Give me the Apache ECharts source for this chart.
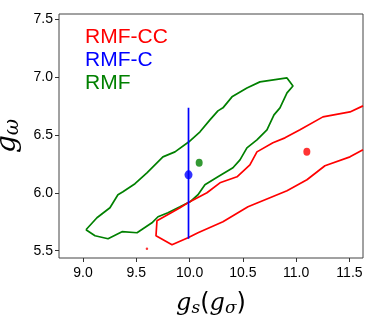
<!DOCTYPE html>
<html>
<head>
<meta charset="utf-8">
<script src="https://cdn.jsdelivr.net/npm/echarts@6/dist/echarts.min.js"></script>
<style>
  html, body { margin: 0; padding: 0; background: #fff; }
  #chart { width: 374px; height: 332px; }
</style>
</head>
<body>
<div id="chart"></div>
<script>
// contour of RMF (green, closed loop)
const rmfContour = [
  [9.028, 5.681], [9.131, 5.784], [9.253, 5.871], [9.328, 5.983], [9.375, 6.009],
  [9.488, 6.078], [9.600, 6.172], [9.675, 6.241], [9.750, 6.310], [9.863, 6.353],
  [9.994, 6.440], [10.098, 6.526], [10.191, 6.629], [10.266, 6.707], [10.313, 6.733],
  [10.398, 6.828], [10.538, 6.905], [10.660, 6.957], [10.914, 6.991], [10.970, 6.922],
  [10.914, 6.862], [10.848, 6.733], [10.792, 6.672], [10.726, 6.543], [10.632, 6.457],
  [10.538, 6.388], [10.473, 6.284], [10.407, 6.216], [10.266, 6.138], [10.144, 6.069],
  [10.079, 5.983], [10.004, 5.922], [9.910, 5.879], [9.797, 5.828], [9.704, 5.793],
  [9.647, 5.741], [9.507, 5.655], [9.366, 5.664], [9.235, 5.603], [9.113, 5.629],
  [9.028, 5.681]
];
// contour of RMF-CC (red, runs off the right edge)
const rmfccContour = [
  [11.627, 6.750], [11.505, 6.698], [11.251, 6.655], [11.036, 6.543], [10.895, 6.474],
  [10.782, 6.431], [10.632, 6.353], [10.566, 6.241], [10.445, 6.138], [10.285, 6.086],
  [10.163, 6.000], [9.985, 5.914], [9.910, 5.871], [9.844, 5.836], [9.694, 5.759],
  [9.685, 5.629], [9.835, 5.552], [9.985, 5.612], [10.079, 5.655], [10.313, 5.750],
  [10.548, 5.879], [10.754, 5.957], [10.914, 6.017], [11.101, 6.112], [11.270, 6.233],
  [11.505, 6.310], [11.627, 6.371]
];
// best points
const rmfccPoint = [11.10, 6.353];
const rmfccStray = [9.60, 5.517];
const rmfPoint = [10.09, 6.26];
// RMF-C: value with error bar
const rmfcX = 9.99;
const rmfcY = 6.155;
const rmfcLow = 5.603;
const rmfcHigh = 6.733;

const xTicks = [9.0, 9.5, 10.0, 10.5, 11.0, 11.5];
const yTicks = [5.5, 6.0, 6.5, 7.0, 7.5];

const font = 'Liberation Sans';
const chart = echarts.init(document.getElementById('chart'), null, { renderer: 'canvas' });

chart.setOption({
  animation: false,
  backgroundColor: '#fff',
  grid: {
    left: 59, right: 11, top: 14, bottom: 74,
    outerBoundsMode: 'none', containLabel: false,
    show: true, borderColor: '#444', borderWidth: 1
  },
  legend: {
    orient: 'vertical', left: 75, top: 22,
    icon: 'none', itemWidth: 0, itemHeight: 20, itemGap: 2,
    selectedMode: false,
    data: [
      { name: 'RMF-CC', textStyle: { color: '#ff0000' } },
      { name: 'RMF-C', textStyle: { color: '#0000ff' } },
      { name: 'RMF', textStyle: { color: '#008000' } }
    ],
    textStyle: { fontFamily: font, fontSize: 21 }
  },
  xAxis: {
    type: 'value', min: 8.775, max: 11.627,
    name: '{i|g}{s|s}{n|(}{i|g}{s|σ}{n|)}',
    nameLocation: 'middle', nameGap: 32,
    nameTextStyle: {
      rich: {
        i: { fontFamily: 'DejaVu Serif', fontStyle: 'italic', fontSize: 24, color: '#000' },
        s: { fontFamily: 'DejaVu Serif', fontStyle: 'italic', fontSize: 17, color: '#000', padding: [10, 0, 0, 0] },
        n: { fontFamily: 'DejaVu Sans', fontSize: 24, color: '#000' }
      }
    },
    axisLine: { show: false },
    axisTick: { show: true, length: 4, lineStyle: { color: '#333' }, customValues: xTicks },
    axisLabel: {
      customValues: xTicks, color: '#000', fontFamily: font, fontSize: 14, margin: 8,
      formatter: v => v.toFixed(1)
    },
    splitLine: { show: false }
  },
  yAxis: {
    type: 'value', min: 5.437, max: 7.543,
    name: '{i|g}{s|ω}',
    nameLocation: 'middle', nameGap: 31, nameRotate: 90,
    nameTextStyle: {
      rich: {
        i: { fontFamily: 'DejaVu Serif', fontStyle: 'italic', fontSize: 28, color: '#000' },
        s: { fontFamily: 'DejaVu Serif', fontStyle: 'italic', fontSize: 20, color: '#000', padding: [10, 0, 0, 0] }
      }
    },
    axisLine: { show: false },
    axisTick: { show: true, length: 4, lineStyle: { color: '#333' }, customValues: yTicks },
    axisLabel: {
      customValues: yTicks, color: '#000', fontFamily: font, fontSize: 14, margin: 6,
      formatter: v => v.toFixed(1)
    },
    splitLine: { show: false }
  },
  series: [
    {
      name: 'RMF-CC', type: 'line', data: rmfccContour, showSymbol: false, clip: true,
      lineStyle: { color: '#ff0000', width: 1.7 }, itemStyle: { color: '#ff0000' }, z: 3
    },
    {
      name: 'RMF-CC', type: 'scatter', data: [rmfccPoint], symbolSize: [7, 8],
      itemStyle: { color: '#ff0000' }, z: 4
    },
    {
      name: 'RMF-CC', type: 'scatter', data: [rmfccStray], symbolSize: 2.5,
      itemStyle: { color: '#ff0000' }, z: 4
    },
    {
      name: 'RMF-C', type: 'line', data: [[rmfcX, rmfcLow], [rmfcX, rmfcHigh]], showSymbol: false,
      lineStyle: { color: '#0000ff', width: 1.7 }, itemStyle: { color: '#0000ff' }, z: 5
    },
    {
      name: 'RMF-C', type: 'scatter', data: [[rmfcX, rmfcY]], symbolSize: [8, 9],
      itemStyle: { color: '#0000ff' }, z: 6
    },
    {
      name: 'RMF', type: 'line', data: rmfContour, showSymbol: false,
      lineStyle: { color: '#008000', width: 1.7 }, itemStyle: { color: '#008000' }, z: 2
    },
    {
      name: 'RMF', type: 'scatter', data: [rmfPoint], symbolSize: [7, 8],
      itemStyle: { color: '#008000' }, z: 4
    }
  ]
});
</script>
</body>
</html>
